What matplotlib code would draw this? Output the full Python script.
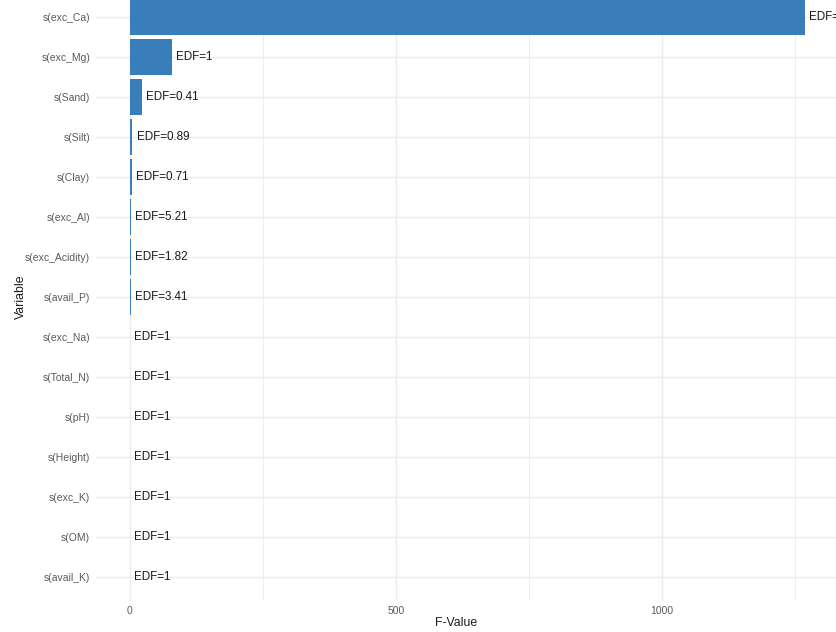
import matplotlib
matplotlib.use("Agg")
import matplotlib.pyplot as plt
from matplotlib.ticker import MultipleLocator

plt.rcParams['font.family'] = ['Liberation Sans', 'DejaVu Sans']

# Smooth terms of the GAM, ordered by F statistic (top to bottom)
terms = ["s(exc_Ca)", "s(exc_Mg)", "s(Sand)", "s(Silt)", "s(Clay)",
         "s(exc_Al)", "s(exc_Acidity)", "s(avail_P)", "s(exc_Na)",
         "s(Total_N)", "s(pH)", "s(Height)", "s(exc_K)", "s(OM)", "s(avail_K)"]
f_values = [1269, 80, 23, 5.0, 4.0, 1.5, 1.5, 1.5, 0.1, 0.1, 0.1, 0.1, 0.1, 0.1, 0.1]
edf = ["1", "1", "0.41", "0.89", "0.71", "5.21", "1.82", "3.41",
       "1", "1", "1", "1", "1", "1", "1"]

bar_color = "#3A7DBB"
grid_color = "#EBEBEB"

W, H = 837, 632
fig = plt.figure(figsize=(W / 100, H / 100), dpi=100)

n = len(terms)
# panel in pixel coordinates
left_px, right_px = 96, 838.7
top_px, bottom_px = -7, 601
ax = fig.add_axes([left_px / W, (H - bottom_px) / H,
                   (right_px - left_px) / W, (bottom_px - top_px) / H])

ypos = [n - 1 - i for i in range(n)]
ax.barh(ypos, f_values, height=0.9, color=bar_color, zorder=2, linewidth=0)

for y, v, e in zip(ypos, f_values, edf):
    ax.annotate(f"EDF={e}", xy=(v, y), xytext=(3.0, 0), textcoords="offset points",
                ha="left", va="center", fontsize=8.4, color="#1a1a1a", zorder=3,
                annotation_clip=False)

xmax = max(f_values)
pad = 0.05 * xmax
ax.set_xlim(-pad, xmax + pad)
ax.set_ylim(-0.6, n - 0.4)

ax.set_yticks(ypos)
ax.set_yticklabels(terms)
ax.xaxis.set_major_locator(MultipleLocator(500))
ax.xaxis.set_minor_locator(MultipleLocator(250))

ax.grid(True, which="major", axis="both", color=grid_color, linewidth=1.0, zorder=0)
ax.grid(True, which="minor", axis="x", color=grid_color, linewidth=0.6, zorder=0)
ax.set_axisbelow(True)

for s in ax.spines.values():
    s.set_visible(False)
ax.tick_params(axis="both", which="both", length=0, labelsize=7.5, labelcolor="#5a5a5a")
ax.tick_params(axis="y", pad=4.2)
ax.tick_params(axis="x", pad=3.5)

ax.set_xlabel("F-Value", fontsize=8.8, color="#1a1a1a")
ax.set_ylabel("Variable", fontsize=8.8, color="#1a1a1a")
ax.xaxis.set_label_coords(456 / W, (H - 616.5) / H, transform=fig.transFigure)
ax.yaxis.set_label_coords(27 / W, (H - 297) / H, transform=fig.transFigure)

fig.savefig("out.png", dpi=100)
